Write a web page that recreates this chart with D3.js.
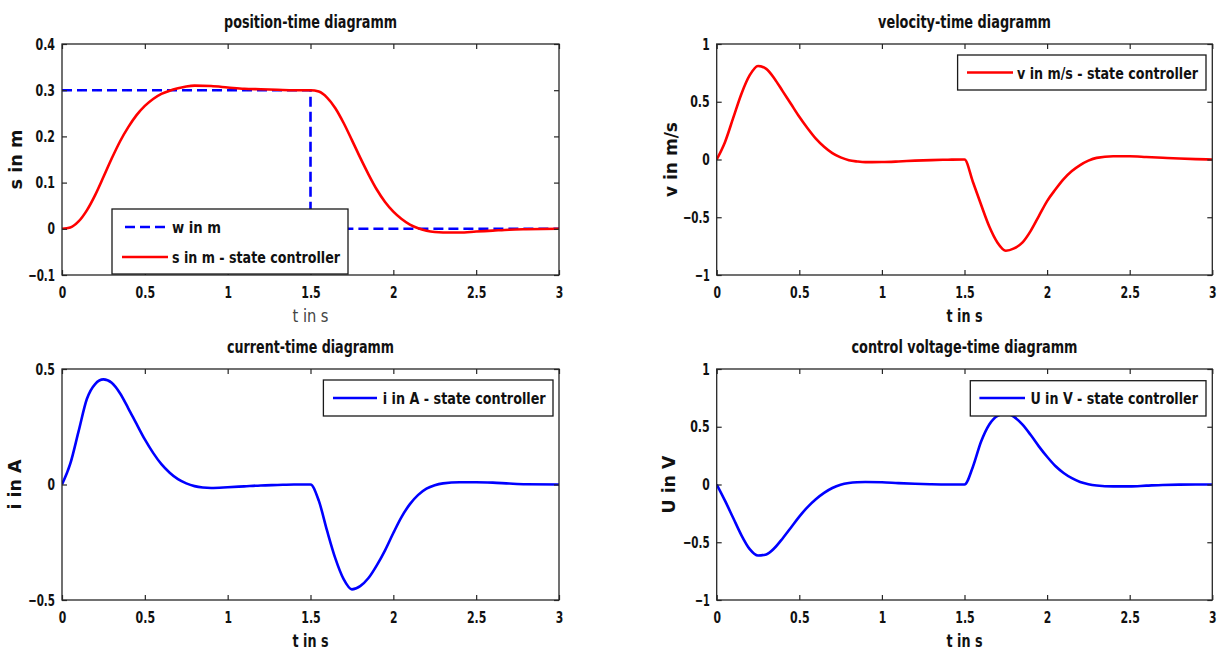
<!DOCTYPE html>
<html><head><meta charset="utf-8">
<script src="https://cdn.jsdelivr.net/npm/d3@7"></script>
<style>
body{margin:0;background:#fff}
text{font-family:"Liberation Sans Narrow","Arial Narrow","DejaVu Sans Condensed",sans-serif;}
</style>
</head><body>
<svg id="c" width="1221" height="650"></svg>
<script>
// ---------------- data ----------------
const xTicks = [0, 0.5, 1, 1.5, 2, 2.5, 3];
const posTicks = [-0.1, 0, 0.1, 0.2, 0.3, 0.4];
const velTicks = [-1, -0.5, 0, 0.5, 1];
const curTicks = [-0.5, 0, 0.5];
const voltTicks = [-1, -0.5, 0, 0.5, 1];

// reference position w (m)
const refTime = [0, 1.5, 1.5, 3];
const refPos  = [0.3, 0.3, 0, 0];

// position s (m)
const posTime = [0,0.05,0.1,0.15,0.2,0.25,0.3,0.35,0.4,0.45,0.5,0.55,0.6,0.65,0.7,0.75,0.8,0.9,1.0,1.1,1.2,1.3,1.4,1.5,1.55,1.6,1.65,1.7,1.75,1.8,1.85,1.9,1.95,2.0,2.05,2.1,2.15,2.2,2.25,2.3,2.4,2.5,2.6,2.7,2.8,3.0];
const posVal  = [0,0.003,0.016,0.040,0.073,0.112,0.152,0.189,0.220,0.246,0.266,0.281,0.292,0.299,0.304,0.308,0.310,0.309,0.306,0.303,0.302,0.301,0.300,0.300,0.297,0.284,0.261,0.229,0.192,0.154,0.118,0.085,0.058,0.037,0.021,0.009,0.001,-0.004,-0.007,-0.008,-0.008,-0.006,-0.004,-0.002,-0.001,0];

// velocity v (m/s)
const velTime = [0,0.05,0.1,0.15,0.2,0.25,0.3,0.35,0.4,0.45,0.5,0.55,0.6,0.65,0.7,0.75,0.8,0.85,0.9,1.0,1.1,1.2,1.3,1.4,1.5,1.55,1.6,1.65,1.7,1.75,1.8,1.85,1.9,1.95,2.0,2.05,2.1,2.15,2.2,2.25,2.3,2.4,2.5,2.6,2.7,2.8,2.9,3.0];
const velVal  = [0,0.15,0.36,0.57,0.73,0.81,0.785,0.70,0.59,0.48,0.37,0.27,0.18,0.11,0.055,0.018,-0.006,-0.017,-0.023,-0.022,-0.017,-0.010,-0.005,-0.002,0,-0.19,-0.39,-0.58,-0.72,-0.79,-0.77,-0.72,-0.62,-0.49,-0.36,-0.26,-0.17,-0.10,-0.048,-0.010,0.014,0.028,0.028,0.022,0.015,0.008,0.003,0];

// current i (A)
const curTime = [0,0.05,0.1,0.15,0.2,0.25,0.3,0.35,0.4,0.45,0.5,0.55,0.6,0.65,0.7,0.75,0.8,0.85,0.9,1.0,1.1,1.2,1.3,1.4,1.5,1.55,1.6,1.65,1.7,1.75,1.8,1.85,1.9,1.95,2.0,2.05,2.1,2.15,2.2,2.25,2.3,2.4,2.5,2.6,2.7,2.8,3.0];
const curVal  = [0,0.09,0.23,0.37,0.435,0.455,0.44,0.395,0.33,0.262,0.195,0.137,0.088,0.051,0.023,0.005,-0.007,-0.013,-0.015,-0.012,-0.008,-0.004,-0.002,0,0,-0.07,-0.20,-0.32,-0.41,-0.454,-0.44,-0.405,-0.35,-0.285,-0.21,-0.14,-0.085,-0.045,-0.018,-0.003,0.005,0.01,0.01,0.008,0.004,0.001,0];

// control voltage U (V)
const voltTime = [0,0.05,0.1,0.15,0.2,0.25,0.3,0.35,0.4,0.45,0.5,0.55,0.6,0.65,0.7,0.75,0.8,0.85,0.9,1.0,1.1,1.2,1.3,1.4,1.5,1.55,1.6,1.65,1.7,1.75,1.8,1.85,1.9,1.95,2.0,2.05,2.1,2.15,2.2,2.25,2.3,2.4,2.5,2.6,2.7,2.8,3.0];
const voltVal  = [0,-0.14,-0.29,-0.44,-0.56,-0.615,-0.605,-0.55,-0.465,-0.372,-0.278,-0.195,-0.127,-0.072,-0.030,-0.002,0.013,0.02,0.022,0.02,0.012,0.006,0.002,0,0,0.15,0.37,0.52,0.595,0.615,0.585,0.52,0.43,0.33,0.24,0.16,0.10,0.055,0.022,0.003,-0.008,-0.016,-0.016,-0.01,-0.004,-0.001,0];

// ---------------- drawing ----------------
const svg = d3.select('#c');
const RED = '#ff0000', BLUE = '#0000ff', AX = '#262626';

function zip(ts, vs){ return ts.map((t,i)=>[t, vs[i]]); }
function tickWidth(s){
  let w = 0;
  for (const ch of s) w += (ch === '.' ? 4.5 : ch === '-' ? 4.5 : 7.5);
  return w;
}

const panels = [
  {left:62, right:559, top:44, bottom:275, yDomain:[-0.1,0.4], yTicks:posTicks,
   title:'position-time diagramm', titleW:173, ylabel:'s in m', ylabelX:16, ylabelW:60,
   xlabelBold:false,
   series:[
     {data:zip(refTime, refPos), color:BLUE, dash:'10,5', w:2.6, step:true},
     {data:zip(posTime, posVal), color:RED, w:2.6}
   ],
   legend:{x0:112, x1:348, y0:209, y1:274, items:[
     {label:'w in m', color:BLUE, dash:'10,5', lx0:125, lx1:168, y:227, tx:172, tw:49},
     {label:'s in m - state controller', color:RED, lx0:122, lx1:168, y:257, tx:172, tw:168}
   ]}},
  {left:716.7, right:1212.3, top:44, bottom:275, yDomain:[-1,1], yTicks:velTicks,
   title:'velocity-time diagramm', titleW:173, ylabel:'v in m/s', ylabelX:671, ylabelW:75,
   xlabelBold:true,
   series:[{data:zip(velTime, velVal), color:RED, w:2.6}],
   legend:{x0:957.6, x1:1206, y0:55, y1:90, items:[
     {label:'v in m/s - state controller', color:RED, lx0:967, lx1:1013, y:72.5, tx:1017, tw:181}
   ]}},
  {left:62, right:559, top:369, bottom:600, yDomain:[-0.5,0.5], yTicks:curTicks,
   title:'current-time diagramm', titleW:167, ylabel:'i in A', ylabelX:15, ylabelW:50,
   xlabelBold:true,
   series:[{data:zip(curTime, curVal), color:BLUE, w:2.6}],
   legend:{x0:323.4, x1:553, y0:380, y1:416, items:[
     {label:'i in A - state controller', color:BLUE, lx0:333, lx1:377, y:398, tx:382.7, tw:163}
   ]}},
  {left:716.7, right:1212.3, top:369, bottom:600, yDomain:[-1,1], yTicks:voltTicks,
   title:'control voltage-time diagramm', titleW:226, ylabel:'U in V', ylabelX:669, ylabelW:58,
   xlabelBold:true,
   series:[{data:zip(voltTime, voltVal), color:BLUE, w:2.6}],
   legend:{x0:970.3, x1:1206, y0:380.7, y1:416, items:[
     {label:'U in V - state controller', color:BLUE, lx0:979.4, lx1:1025, y:398, tx:1030.4, tw:167.5}
   ]}}
];

panels.forEach((p, idx) => {
  const g = svg.append('g');
  const x = d3.scaleLinear().domain([0,3]).range([p.left, p.right]);
  const y = d3.scaleLinear().domain(p.yDomain).range([p.bottom, p.top]);

  const cid = 'clip' + idx;
  svg.append('clipPath').attr('id', cid).append('rect')
    .attr('x', p.left).attr('y', p.top).attr('width', p.right - p.left).attr('height', p.bottom - p.top);

  g.append('rect').attr('x', p.left).attr('y', p.top)
    .attr('width', p.right - p.left).attr('height', p.bottom - p.top).attr('fill', '#fff');

  const lines = g.append('g').attr('clip-path', `url(#${cid})`);
  p.series.forEach(s => {
    const gen = d3.line().x(d => x(d[0])).y(d => y(d[1]))
      .curve(s.step ? d3.curveLinear : d3.curveMonotoneX);
    lines.append('path').datum(s.data).attr('d', gen)
      .attr('fill', 'none').attr('stroke', s.color).attr('stroke-width', s.w)
      .attr('stroke-dasharray', s.dash || null).attr('stroke-linejoin', 'round');
  });

  const tickStyle = sel => {
    sel.select('.domain').remove();
    sel.selectAll('.tick line').attr('stroke', AX).attr('stroke-width', 1.2);
    sel.selectAll('.tick text').attr('fill', '#111').attr('font-size', 16).attr('font-weight', 'bold')
      .each(function(){
        const t = d3.select(this).text();
        if (t) d3.select(this).attr('textLength', tickWidth(t)).attr('lengthAdjust', 'spacingAndGlyphs');
      });
  };
  g.append('g').attr('transform', `translate(0,${p.bottom})`)
    .call(d3.axisBottom(x).tickValues(xTicks).tickSizeInner(-5).tickSizeOuter(0).tickPadding(11.8).tickFormat(d3.format('')))
    .call(tickStyle);
  g.append('g').attr('transform', `translate(0,${p.top})`)
    .call(d3.axisTop(x).tickValues(xTicks).tickSizeInner(-5).tickSizeOuter(0).tickFormat(''))
    .call(tickStyle);
  g.append('g').attr('transform', `translate(${p.left},0)`)
    .call(d3.axisLeft(y).tickValues(p.yTicks).tickSizeInner(-5).tickSizeOuter(0).tickPadding(7).tickFormat(d3.format('')))
    .call(tickStyle);
  g.append('g').attr('transform', `translate(${p.right},0)`)
    .call(d3.axisRight(y).tickValues(p.yTicks).tickSizeInner(-5).tickSizeOuter(0).tickFormat(''))
    .call(tickStyle);

  g.append('rect').attr('x', p.left).attr('y', p.top)
    .attr('width', p.right - p.left).attr('height', p.bottom - p.top)
    .attr('fill', 'none').attr('stroke', AX).attr('stroke-width', 1.3);

  const cx = (p.left + p.right) / 2;
  g.append('text').attr('x', cx).attr('y', p.top - 16)
    .attr('text-anchor', 'middle').attr('font-size', 17).attr('font-weight', 'bold').attr('fill', '#111')
    .attr('textLength', p.titleW).attr('lengthAdjust', 'spacingAndGlyphs')
    .text(p.title);
  g.append('text').attr('x', cx).attr('y', p.bottom + 47)
    .attr('text-anchor', 'middle').attr('font-size', 17)
    .attr('font-weight', p.xlabelBold ? 'bold' : 'normal')
    .attr('fill', p.xlabelBold ? '#111' : '#444')
    .attr('textLength', 36).attr('lengthAdjust', 'spacingAndGlyphs')
    .text('t in s');
  const cy = (p.top + p.bottom) / 2;
  g.append('text').attr('transform', `translate(${p.ylabelX + 6},${cy}) rotate(-90)`)
    .attr('text-anchor', 'middle').attr('font-size', 17).attr('font-weight', 'bold').attr('fill', '#111')
    .attr('textLength', p.ylabelW).attr('lengthAdjust', 'spacingAndGlyphs')
    .text(p.ylabel);

  const L = p.legend;
  const lg = g.append('g');
  lg.append('rect').attr('x', L.x0).attr('y', L.y0).attr('width', L.x1 - L.x0).attr('height', L.y1 - L.y0)
    .attr('fill', '#fff').attr('stroke', '#1a1a1a').attr('stroke-width', 1.3);
  L.items.forEach(it => {
    lg.append('line').attr('x1', it.lx0).attr('x2', it.lx1).attr('y1', it.y).attr('y2', it.y)
      .attr('stroke', it.color).attr('stroke-width', 2.6).attr('stroke-dasharray', it.dash || null);
    lg.append('text').attr('x', it.tx).attr('y', it.y + 6)
      .attr('font-size', 16).attr('font-weight', 'bold').attr('fill', '#111')
      .attr('textLength', it.tw).attr('lengthAdjust', 'spacingAndGlyphs')
      .text(it.label);
  });
});
</script>
</body></html>
